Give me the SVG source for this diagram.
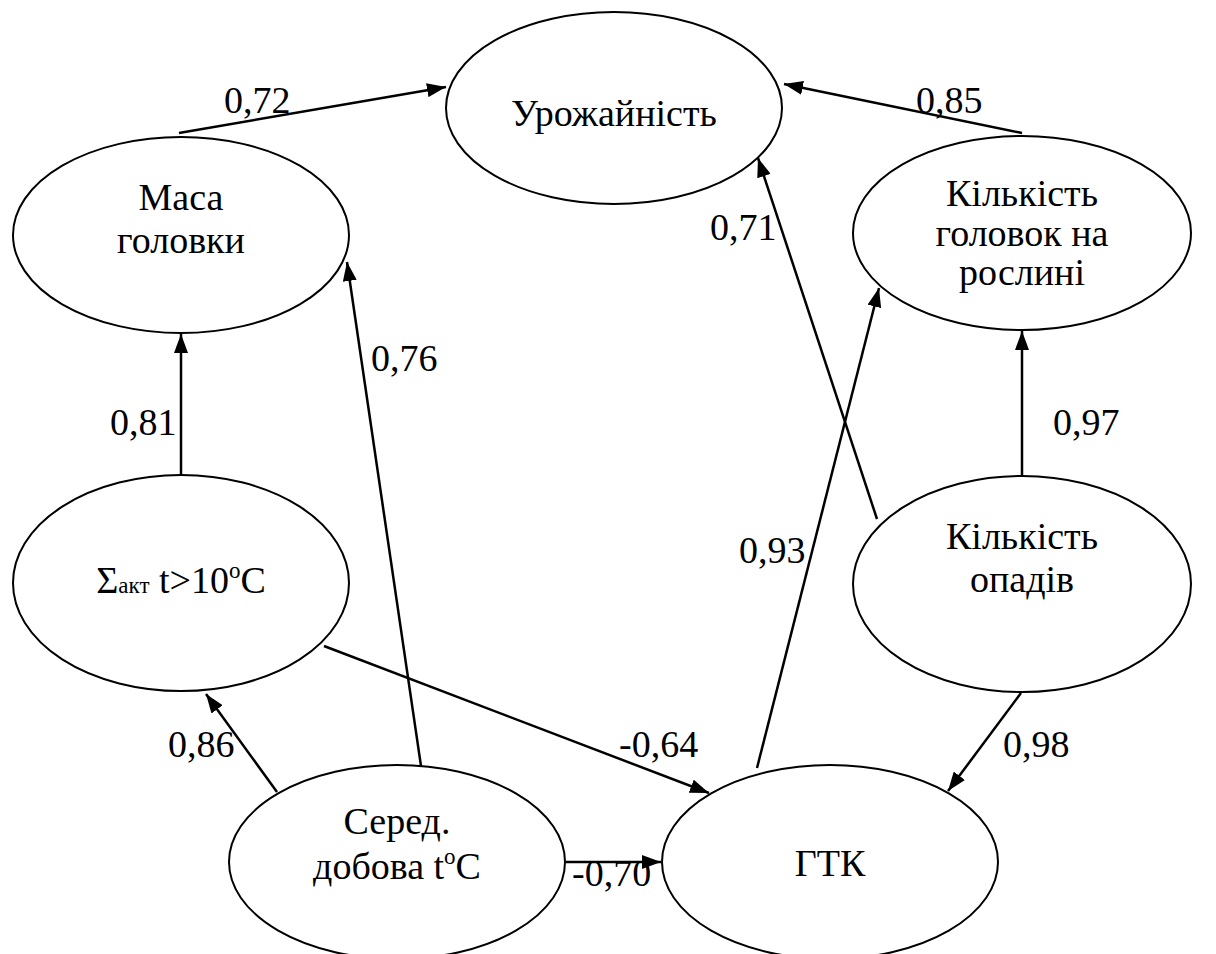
<svg xmlns="http://www.w3.org/2000/svg" width="1216" height="954" viewBox="0 0 1216 954">
<style>
.n ellipse{fill:#fff;stroke:#000;stroke-width:2}
text{font-family:"Liberation Serif","DejaVu Serif",serif;font-size:38px;fill:#000}
.c{text-anchor:middle}
.e line{stroke:#000;stroke-width:2.5}
</style>
<defs>
<marker id="a" markerUnits="userSpaceOnUse" markerWidth="20" markerHeight="14" refX="19" refY="7" orient="auto"><path d="M0,0 L19,7 L0,14 Z" fill="#000"/></marker>
</defs>
<rect width="1216" height="954" fill="#fff"/>
<g id="n-urozh" class="n"><ellipse cx="614" cy="108" rx="168" ry="96"/><text class="c" x="614" y="126">Урожайність</text></g>
<g id="n-masa" class="n"><ellipse cx="181" cy="235" rx="168" ry="98"/><text class="c" x="181" y="210">Маса</text><text class="c" x="181" y="253">головки</text></g>
<g id="n-kilk" class="n"><ellipse cx="1022" cy="233" rx="169" ry="97"/><text class="c" x="1022" y="206">Кількість</text><text class="c" x="1022" y="246">головок на</text><text class="c" x="1022" y="285">рослині</text></g>
<g id="n-sum" class="n"><ellipse cx="181" cy="583" rx="168" ry="108"/><text class="c" x="181" y="593">Σ<tspan font-size="23">акт</tspan> t&gt;10<tspan font-size="23" dy="-15">o</tspan><tspan dy="15">C</tspan></text></g>
<g id="n-opad" class="n"><ellipse cx="1022" cy="584" rx="169" ry="108"/><text class="c" x="1022" y="549">Кількість</text><text class="c" x="1022" y="592">опадів</text></g>
<g id="n-sered" class="n"><ellipse cx="397" cy="862" rx="168" ry="97"/><text class="c" x="397" y="834">Серед.</text><text class="c" x="397" y="879">добова t<tspan font-size="23" dy="-15">o</tspan><tspan dy="15">C</tspan></text></g>
<g id="n-gtk" class="n"><ellipse cx="830" cy="862" rx="168" ry="97"/><text class="c" x="830" y="876">ГТК</text></g>
<g id="edges" class="e">
<line x1="179" y1="133" x2="446" y2="87" marker-end="url(#a)"/>
<line x1="1022" y1="133" x2="784" y2="84" marker-end="url(#a)"/>
<line x1="877" y1="519" x2="758" y2="158" marker-end="url(#a)"/>
<line x1="757" y1="768" x2="879" y2="288" marker-end="url(#a)"/>
<line x1="1022" y1="476" x2="1022" y2="331" marker-end="url(#a)"/>
<line x1="1021" y1="693" x2="948" y2="791" marker-end="url(#a)"/>
<line x1="181" y1="475" x2="181" y2="334" marker-end="url(#a)"/>
<line x1="421" y1="766" x2="347" y2="262" marker-end="url(#a)"/>
<line x1="277" y1="792" x2="206" y2="694" marker-end="url(#a)"/>
<line x1="324" y1="646" x2="709" y2="793" marker-end="url(#a)"/>
<line x1="566" y1="862" x2="661" y2="862" marker-end="url(#a)"/>
<text x="224" y="113">0,72</text>
<text x="916" y="113">0,85</text>
<text x="710" y="240">0,71</text>
<text x="739" y="563">0,93</text>
<text x="1053" y="435">0,97</text>
<text x="1003" y="757">0,98</text>
<text x="110" y="435">0,81</text>
<text x="371" y="371">0,76</text>
<text x="168" y="757">0,86</text>
<text x="619" y="757">-0,64</text>
<text x="572" y="886">-0,70</text>
</g>
</svg>
